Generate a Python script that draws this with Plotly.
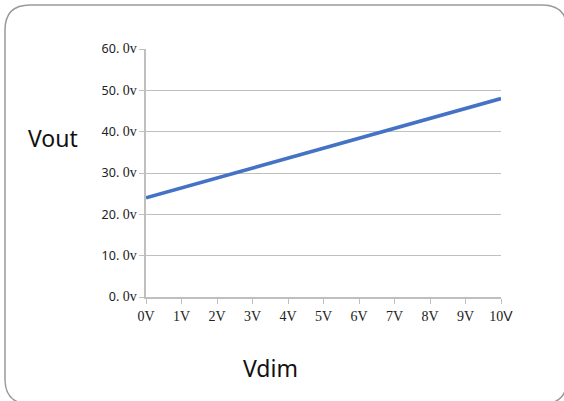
import plotly.graph_objects as go

# Data
vdim = [0, 1, 2, 3, 4, 5, 6, 7, 8, 9, 10]
vout = [24.0, 26.4, 28.8, 31.2, 33.6, 36.0, 38.4, 40.8, 43.2, 45.6, 48.0]
x_tick_vals = [0, 1, 2, 3, 4, 5, 6, 7, 8, 9, 10]
x_tick_text = ["0V", "1V", "2V", "3V", "4V", "5V", "6V", "7V", "8V", "9V", "10<span style='font-family:Liberation Sans'>V</span>"]
y_tick_vals = [0, 10, 20, 30, 40, 50, 60]
y_tick_nums = ["0.", "10.", "20.", "30.", "40.", "50.", "60."]

W, H = 564, 401
L, R, T, B = 146, 63, 49, 104
pw, ph = W - L - R, H - T - B

def px(x):
    return (x - L) / pw

def py(y):
    return (H - B - y) / ph

serif = "Liberation Serif"
y_tick_text = [f"{n}<span style='font-family:{serif};font-size:14px'> 0v</span>" for n in y_tick_nums]

fig = go.Figure()
fig.add_trace(go.Scatter(x=vdim, y=vout, mode="lines",
                         line=dict(color="#4472C4", width=3.6),
                         showlegend=False, hoverinfo="skip"))

# rounded frame
x0, x1, y0, y1, r = 5, 567, 5, 404, 25
path = (f"M {px(x0+r)},{py(y0)} L {px(x1-r)},{py(y0)} Q {px(x1)},{py(y0)} {px(x1)},{py(y0+r)} "
        f"L {px(x1)},{py(y1-r)} Q {px(x1)},{py(y1)} {px(x1-r)},{py(y1)} "
        f"L {px(x0+r)},{py(y1)} Q {px(x0)},{py(y1)} {px(x0)},{py(y1-r)} "
        f"L {px(x0)},{py(y0+r)} Q {px(x0)},{py(y0)} {px(x0+r)},{py(y0)} Z")

fig.update_layout(
    width=W, height=H,
    margin=dict(l=L, r=R, t=T, b=B),
    paper_bgcolor="white", plot_bgcolor="white",
    font=dict(family="Noto Sans", color="#222222", size=12),
    shapes=[dict(type="path", xref="paper", yref="paper", path=path,
                 line=dict(color="#9a9a9a", width=1.5), layer="below")],
    annotations=[
        dict(text="Vout", xref="paper", yref="paper", x=px(53), y=py(138),
             xanchor="center", yanchor="middle",
             showarrow=False, font=dict(size=23, family="Noto Sans", color="#111111")),
        dict(text="Vdim", xref="paper", yref="paper", x=px(270), y=py(368),
             xanchor="center", yanchor="middle",
             showarrow=False, font=dict(size=23, family="Noto Sans", color="#111111")),
    ],
)
fig.update_xaxes(range=[0, 10], tickvals=x_tick_vals, ticktext=x_tick_text,
                 showgrid=False, showline=True, linecolor="#bfbfbf", linewidth=1.5,
                 ticks="outside", ticklen=5, tickcolor="#bfbfbf",
                 tickfont=dict(family=serif, size=14, color="#222222"),
                 zeroline=False, fixedrange=True)
fig.update_yaxes(range=[0, 60], tickvals=y_tick_vals, ticktext=y_tick_text,
                 showgrid=True, gridcolor="#bfbfbf", gridwidth=1.2,
                 showline=True, linecolor="#bfbfbf", linewidth=1.5,
                 ticks="outside", ticklen=5, tickcolor="#bfbfbf",
                 tickfont=dict(family="Noto Sans", size=12.5, color="#222222"),
                 zeroline=False, fixedrange=True)

fig.write_html("out.html", config={"displayModeBar": False},
               post_script="document.body.style.margin='0';")
